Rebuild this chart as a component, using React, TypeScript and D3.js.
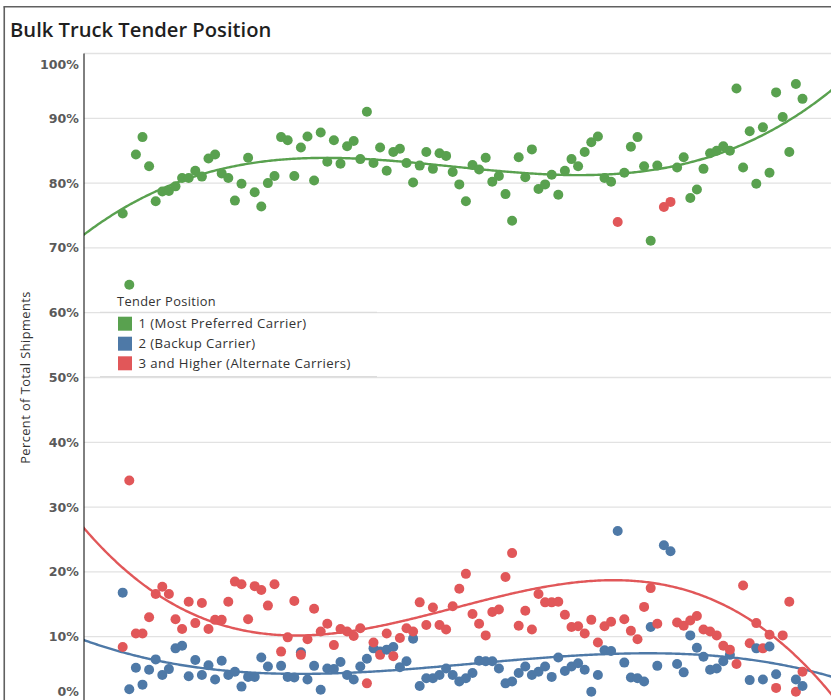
import React from 'react';
import * as d3 from 'd3';

const title = 'Bulk Truck Tender Position';
const yAxisTitle = 'Percent of Total Shipments';
const legendTitle = 'Tender Position';
const tickValues = [0, 10, 20, 30, 40, 50, 60, 70, 80, 90, 100];
const tickLabels = ['0%', '10%', '20%', '30%', '40%', '50%', '60%', '70%', '80%', '90%', '100%'];
const seriesNames = ['1 (Most Preferred Carrier)', '2 (Backup Carrier)', '3 and Higher (Alternate Carriers)'];
const seriesColors = ['#59A14F', '#4E79A7', '#E15759'];

// weekly share of shipments, % (null = no mark visible)
const preferred: (number | null)[] = [
  75.3, 64.3, 84.4, 87.1, 82.6, 77.2, 78.7, 78.8, 79.5, 80.8,
  80.8, 81.9, 81.0, 83.8, 84.4, 81.5, 80.8, 77.3, 79.9, 83.9,
  78.6, 76.4, 80.0, 81.1, 87.1, 86.6, 81.1, 85.5, 87.2, 80.4,
  87.8, 83.3, 86.6, 83.0, 85.7, 86.5, 83.7, 91.0, 83.1, 85.5,
  81.9, 84.8, 85.3, 83.1, 80.1, 82.7, 84.8, 82.2, 84.6, 84.2,
  81.7, 79.8, 77.2, 82.8, 82.1, 83.9, 80.2, 81.1, 78.3, 74.2,
  84.0, 80.9, 85.2, 79.1, 79.8, 81.3, 78.2, 81.9, 83.7, 82.6,
  84.8, 86.3, 87.2, 80.8, 80.2, null, 81.6, 85.6, 87.1, 82.6,
  71.1, 82.7, null, null, 82.4, 84.0, 77.7, 79.0, 82.2, 84.6,
  85.0, 85.7, 85.0, 94.6, 82.4, 88.0, 79.9, 88.6, 81.6, 94.0,
  90.2, 84.8, 95.3, 93.0,
];
const backup: (number | null)[] = [
  16.8, 1.9, 5.2, 2.6, 4.9, 6.5, 4.1, 5.0, 8.2, 8.6,
  3.9, 6.4, 4.1, 5.6, 3.4, 6.3, 4.1, 4.6, 2.3, 3.8,
  3.8, 6.8, 5.4, null, 5.5, 3.8, 3.7, 7.6, 3.4, 5.5,
  1.8, 5.1, 5.0, 6.1, 4.1, 3.4, 5.4, 6.6, 8.2, 7.7,
  8.0, 8.4, 5.3, 6.2, 9.7, 2.4, 3.6, 3.6, 4.1, 5.1,
  4.1, 3.1, 3.6, 4.4, 6.3, 6.2, 6.2, 5.1, 2.8, 3.1,
  4.4, 5.4, 4.1, 4.6, 5.4, 3.8, 6.8, 4.7, 5.4, 5.9,
  4.9, 1.5, 4.1, 7.9, 7.8, 26.3, 6.0, 3.7, 3.6, 3.1,
  11.5, 5.5, 24.1, 23.2, 5.8, 4.5, 10.2, 8.3, 6.9, 4.9,
  5.1, 6.2, 7.2, null, null, 3.3, 8.2, 3.4, 8.5, 4.2,
  null, null, 3.4, 2.4,
];
const alternate: (number | null)[] = [
  8.4, 34.1, 10.5, 10.5, 13.0, 16.6, 17.7, 16.6, 12.7, 11.2,
  15.4, 12.1, 15.2, 11.2, 12.6, 12.6, 15.4, 18.5, 18.1, 12.7,
  17.8, 17.2, 14.8, 18.1, 7.7, 9.9, 15.5, 7.2, 9.6, 14.3,
  10.8, 12.0, 8.7, 11.2, 10.8, 10.1, 11.3, 2.8, 9.1, 7.2,
  10.5, 7.0, 9.8, 11.3, 10.8, 15.3, 11.8, 14.5, 11.8, 11.1,
  14.7, 17.4, 19.7, 13.5, 12.0, 10.2, 13.8, 14.2, 19.2, 22.9,
  11.7, 14.0, 11.1, 16.6, 15.3, 15.3, 15.4, 13.4, 11.5, 11.6,
  10.5, 12.6, 9.1, 11.6, 12.3, 74.0, 12.7, 10.9, 9.6, 14.6,
  17.5, 12.0, 76.3, 77.1, 12.2, 11.7, 12.5, 13.2, 11.1, 10.8,
  10.2, 8.6, 8.0, 5.8, 17.9, 9.0, 12.1, 8.2, 10.3, 2.1,
  10.2, 15.4, 1.5, 4.6,
];

const seriesValues = [preferred, backup, alternate];

function cubicFit(vals: (number | null)[]) {
  const n = vals.length;
  const c = (n - 1) / 2;
  const s = c;
  const pts = vals
    .map((v, i) => ({ t: (i - c) / s, v }))
    .filter((p) => p.v != null) as { t: number; v: number }[];
  const deg = 3;
  const m = deg + 1;
  const A: number[][] = Array.from({ length: m }, () => new Array(m + 1).fill(0));
  for (const p of pts) {
    for (let r = 0; r < m; r++) {
      for (let k = 0; k < m; k++) A[r][k] += Math.pow(p.t, r + k);
      A[r][m] += p.v * Math.pow(p.t, r);
    }
  }
  for (let col = 0; col < m; col++) {
    let piv = col;
    for (let r = col + 1; r < m; r++) if (Math.abs(A[r][col]) > Math.abs(A[piv][col])) piv = r;
    [A[col], A[piv]] = [A[piv], A[col]];
    for (let r = 0; r < m; r++) {
      if (r === col) continue;
      const f = A[r][col] / A[col][col];
      for (let k = col; k <= m; k++) A[r][k] -= f * A[col][k];
    }
  }
  const coef = A.map((row, r) => row[m] / row[r]);
  return (i: number) => {
    const t = (i - c) / s;
    return coef.reduce((acc, a, k) => acc + a * Math.pow(t, k), 0);
  };
}

const W = 831;
const H = 700;
const plotLeft = 84;
const plotRight = 831;
const plotTop = 53.5;
const plotBottom = 701.5;

export default function App() {
  const n = preferred.length;
  const x = d3.scaleLinear().domain([0, n - 1]).range([122.7, 122.7 + 6.6 * (n - 1)]);
  const y = d3.scaleLinear().domain([0, 100]).range([plotBottom, plotTop]);

  const xStart = x.invert(plotLeft - 2);
  const xEnd = x.invert(plotRight + 2);
  const curveXs = d3.range(xStart, xEnd, 0.25).concat([xEnd]);

  const line = d3
    .line<number[]>()
    .x((d) => x(d[0]))
    .y((d) => y(d[1]));

  const fits = seriesValues.map((vals) => cubicFit(vals));

  const labelFont = 'DejaVu Sans, sans-serif';
  const uiFont = '"Open Sans", "Noto Sans", sans-serif';

  // draw order: by week, each week green, blue, red
  const marks: { i: number; s: number; v: number }[] = [];
  for (let i = 0; i < n; i++) {
    for (let s = 0; s < 3; s++) {
      const v = seriesValues[s][i];
      if (v != null) marks.push({ i, s, v });
    }
  }

  const legendX = 118;
  const legendTitleY = 306;
  const legendRowY = [316.7, 336.7, 356.3];

  return (
    <svg
      width={W}
      height={H}
      style={{ position: 'absolute', left: 0, top: 0, background: '#fff' }}
      xmlns="http://www.w3.org/2000/svg"
    >
      <defs>
        <clipPath id="plotClip">
          <rect x={plotLeft} y={plotTop - 6} width={plotRight - plotLeft + 10} height={plotBottom - plotTop + 10} />
        </clipPath>
      </defs>
      <rect x={0} y={0} width={W} height={H} fill="#fff" />
      {/* outer frame */}
      <line x1={4.25} x2={4.25} y1={6.5} y2={H + 5} stroke="#606060" strokeWidth={1.6} />
      <line x1={3.5} x2={W + 5} y1={6.8} y2={6.8} stroke="#606060" strokeWidth={1.6} />

      <text x={10} y={37} fontFamily={uiFont} fontWeight={600} fontSize={20.2} fill="#1f1f1f">
        {title}
      </text>

      {/* gridlines */}
      {tickValues.map((v) => (
        <line
          key={'g' + v}
          x1={plotLeft}
          x2={plotRight}
          y1={y(v)}
          y2={y(v)}
          stroke="#e2e2e2"
          strokeWidth={1.3}
        />
      ))}
      {/* tick labels */}
      {tickValues.map((v, k) => {
        const yy = Math.min(Math.max(y(v), plotTop + 10.5), plotBottom - 10.5);
        return (
          <text
            key={'t' + v}
            x={79}
            y={yy}
            dy="0.36em"
            textAnchor="end"
            fontFamily={labelFont}
            fontWeight={700}
            fontSize={12.6}
            fill="#5a5a5a"
          >
            {tickLabels[k]}
          </text>
        );
      })}
      <text
        transform={`translate(30, ${(plotTop + plotBottom) / 2}) rotate(-90)`}
        textAnchor="middle"
        fontFamily={uiFont}
        fontSize={12.8}
        letterSpacing={0.45}
        fill="#333"
      >
        {yAxisTitle}
      </text>

      <g clipPath="url(#plotClip)">
        {fits.map((f, s) => (
          <path
            key={'f' + s}
            d={line(curveXs.map((t) => [t, f(t)])) || ''}
            fill="none"
            stroke={seriesColors[s]}
            strokeWidth={2.4}
          />
        ))}
        {marks.map((m, k) => (
          <circle key={k} cx={x(m.i)} cy={y(m.v)} r={5} fill={seriesColors[m.s]} />
        ))}
      </g>
      <line x1={plotLeft} x2={plotLeft} y1={plotTop} y2={H} stroke="#000" strokeWidth={1} />

      {/* legend */}
      <text x={legendX - 1} y={legendTitleY} fontFamily={uiFont} fontSize={12.8} letterSpacing={0.35} fill="#333">
        {legendTitle}
      </text>
      <line x1={100} x2={377} y1={312.3} y2={312.3} stroke="#dcdcdc" strokeWidth={1.2} />
      {seriesNames.map((name, s) => (
        <g key={'l' + s}>
          <rect x={legendX} y={legendRowY[s]} width={14} height={14} fill={seriesColors[s]} />
          <text
            x={138.5}
            y={legendRowY[s] + 11.5}
            fontFamily={uiFont}
            fontSize={13.2}
            letterSpacing={0.4}
            fill="#333"
          >
            {name}
          </text>
        </g>
      ))}
      <line x1={100} x2={377} y1={376.7} y2={376.7} stroke="#dcdcdc" strokeWidth={1.2} />
    </svg>
  );
}
